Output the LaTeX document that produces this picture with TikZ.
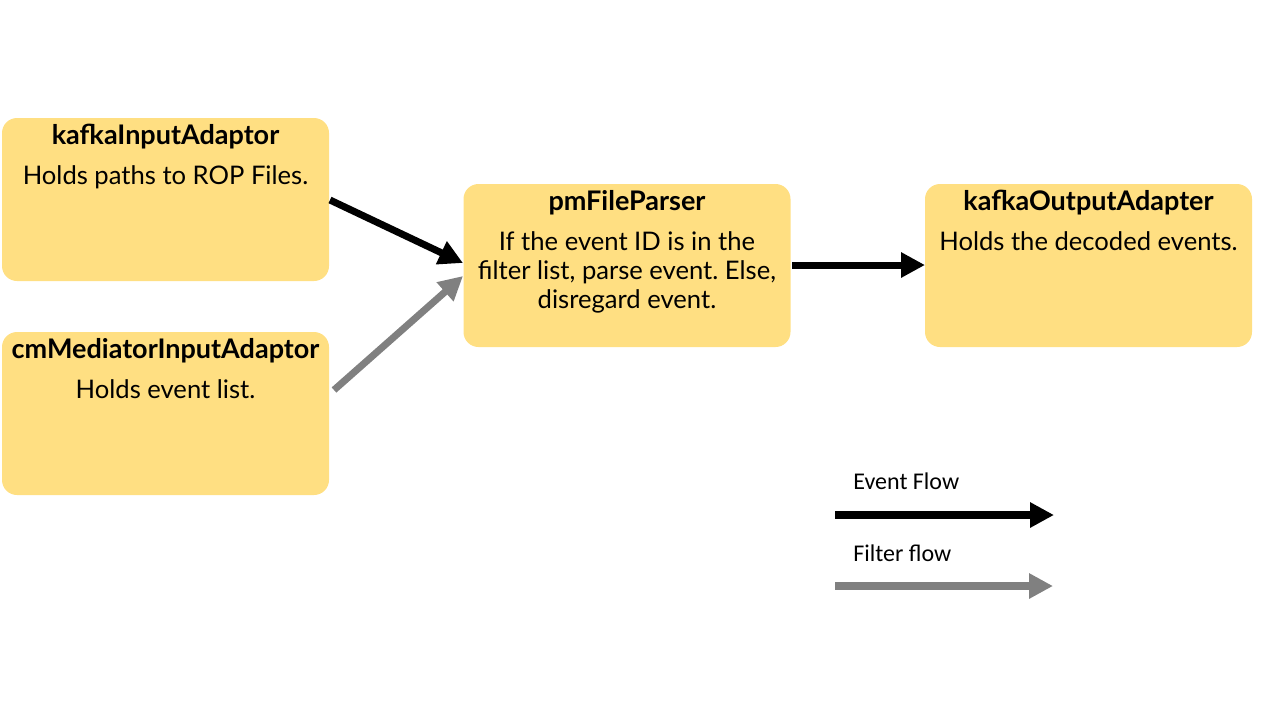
\documentclass[tikz,border=0pt]{standalone}
\usepackage{fontspec}
\setmainfont{Lato}
\newfontfamily\legendfont{Carlito}
\usetikzlibrary{arrows.meta}
\frenchspacing
\definecolor{boxfill}{HTML}{FFDF82}
\definecolor{flowgray}{HTML}{808080}
\tikzset{
  box/.style={draw=none, fill=boxfill, rounded corners=7.5pt, minimum width=163.5pt, minimum height=81.5pt, inner sep=0pt},
  title/.style={font=\fontsize{13.5}{15}\selectfont\bfseries, anchor=base, inner sep=0pt},
  body/.style={font=\fontsize{12.8}{14.5}\selectfont, align=center, anchor=base, inner sep=0pt},
  eventflow/.style={draw=black, line width=3.5pt, -{Triangle[length=12pt, width=12pt]}},
  filterflow/.style={draw=flowgray, line width=3.5pt, -{Triangle[length=12pt, width=12pt]}},
  legendtxt/.style={font=\legendfont\fontsize{12}{14}\selectfont, anchor=west, inner sep=0pt},
}
\begin{document}
\begin{tikzpicture}[x=0.5pt, y=-0.5pt]
\useasboundingbox (0,0) rectangle (1280,720);
% boxes
\node[box] (kin) at (165.5,199.5) {};
\node[box] (cmin) at (165.5,413.5) {};
\node[box] (pm) at (627,265.5) {};
\node[box] (kout) at (1088.5,265.5) {};
% texts
\node[title] (kinT) at ([yshift=-13.5pt]kin.north) {kafkaInputAdaptor};
\node[body] (kinB) at ([yshift=-33.5pt]kin.north) {Holds paths to ROP Files.};
\node[title] (cminT) at ([yshift=-13.5pt]cmin.north) {cmMediatorInputAdaptor};
\node[body] (cminB) at ([yshift=-33.5pt]cmin.north) {Holds event list.};
\node[title] (pmT) at ([yshift=-13.5pt]pm.north) {pmFileParser};
\node[body] (pmB) at ([yshift=-62.5pt]pm.north) {If the event ID is in the\\filter list, parse event. Else,\\disregard event.};
\node[title] (koutT) at ([yshift=-13.5pt]kout.north) {kafkaOutputAdapter};
\node[body] (koutB) at ([yshift=-33.5pt]kout.north) {Holds the decoded events.};
% connectors
\coordinate (a1s) at (330,200);
\coordinate (a1e) at (463,263);
\coordinate (a2s) at (334,390);
\coordinate (a2e) at (463,276);
\coordinate (a3s) at (792,265);
\coordinate (a3e) at (925,265);
\draw[eventflow] (a1s) -- (a1e);
\draw[filterflow] (a2s) -- (a2e);
\draw[eventflow] (a3s) -- (a3e);
% legend
\node[legendtxt] (lg1) at (853,481) {Event Flow};
\node[legendtxt] (lg2) at (853,553) {Filter flow};
\coordinate (l1s) at (835,515);
\coordinate (l1e) at (1054,515);
\coordinate (l2s) at (835,586);
\coordinate (l2e) at (1053,586);
\draw[eventflow, line width=4.2pt] (l1s) -- (l1e);
\draw[filterflow, line width=4.2pt] (l2s) -- (l2e);
\end{tikzpicture}
\end{document}
